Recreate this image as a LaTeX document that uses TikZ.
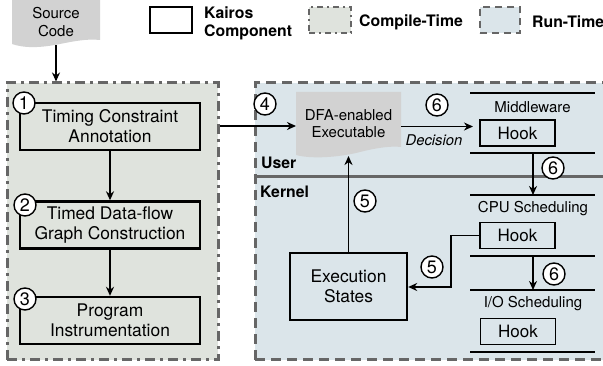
\documentclass[tikz,border=0pt]{standalone}
\usepackage{fontspec}
\setmainfont{TeX Gyre Heros}
\usetikzlibrary{arrows.meta,calc}

\definecolor{ctfill}{HTML}{DFE3DD}
\definecolor{rtfill}{HTML}{DBE5EA}
\definecolor{docfill}{HTML}{D2D2D2}
\definecolor{framegray}{HTML}{666666}

\tikzset{
  comp/.style={draw=black, line width=2.4pt, minimum width=180pt, minimum height=47pt,
    align=center, inner sep=0pt, font=\fontsize{17.4}{20}\selectfont},
  hookbox/.style={draw=black, line width=1.6pt, minimum width=75pt, minimum height=26pt,
    inner sep=0pt, font=\fontsize{17}{20}\selectfont},
  num/.style={circle, draw=black, fill=white, line width=1.4pt, minimum size=22pt,
    inner sep=0pt, font=\fontsize{18}{18}\selectfont},
  arr/.style={line width=1.8pt, -{Stealth[length=9pt,width=8pt]}},
  layer/.style={line width=1.6pt},
  lbl/.style={font=\fontsize{15}{17.5}\selectfont, align=center, inner sep=0pt},
  ctframe/.style={draw=framegray, line width=3pt, dash pattern=on 10pt off 5pt on 3pt off 5pt, fill=ctfill},
  rtframe/.style={draw=framegray, line width=3pt, dash pattern=on 10pt off 6pt, fill=rtfill},
  legendtxt/.style={font=\bfseries\fontsize{15.8}{18}\selectfont, anchor=west, align=left, inner sep=0pt},
  doc/.style={fill=docfill, draw=none},
}

\begin{document}
\begin{tikzpicture}[x=1pt, y=-1pt]
  \clip (0,0) rectangle (603,366);
  \fill[white] (0,0) rectangle (603,366);

  % legend
  \node[draw=black, line width=1.6pt, minimum width=42pt, minimum height=26pt, inner sep=0pt] (lgk) at (171,20) {};
  \node[legendtxt] (lgktxt) at (204,23) {Kairos\\Component};
  \node[ctframe, line width=2pt, dash pattern=on 6pt off 4pt on 2pt off 4pt, minimum width=42pt, minimum height=26pt, inner sep=0pt] (lgc) at (330,20) {};
  \node[legendtxt] (lgctxt) at (359,22) {Compile-Time};
  \node[rtframe, line width=2pt, dash pattern=on 7pt off 5pt, minimum width=40pt, minimum height=26pt, inner sep=0pt] (lgr) at (500,20) {};
  \node[legendtxt] (lgrtxt) at (532,22) {Run-Time};

  % compile-time and run-time regions
  \node[ctframe, minimum width=211pt, minimum height=277pt, inner sep=0pt] (ct) at (112.5,221.5) {};
  \node[rtframe, minimum width=360pt, minimum height=277pt, inner sep=0pt] (rt) at (435,221.5) {};
  \draw[framegray, line width=3pt] (rt.west |- 0,177) -- (603,177);
  \node[font=\bfseries\fontsize{15.8}{18}\selectfont, anchor=west, inner sep=0pt] (user) at (261,163) {User};
  \node[font=\bfseries\fontsize{15.8}{18}\selectfont, anchor=west, inner sep=0pt] (kernel) at (260,192) {Kernel};

  % source code document
  \path[doc] (12,0) -- (100,0) -- (100,40)
    .. controls (90,39) and (80,40) .. (65,43)
    .. controls (50,46) and (30,50) .. (12,44) -- cycle;
  \node[lbl] (src) at (56,22) {Source\\Code};
  \coordinate (srcbot) at (56,45);

  % compile-time components
  \node[comp] (b1) at (110,126.5) {Timing Constraint\\Annotation};
  \node[comp] (b2) at (110,225) {Timed Data-flow\\Graph Construction};
  \node[comp] (b3) at (110,320.5) {Program\\Instrumentation};

  % DFA-enabled executable document
  \path[doc] (296,92) -- (401,92) -- (401,147)
    .. controls (392,146) and (380,147) .. (360,152)
    .. controls (345,156) and (315,160) .. (296,155) -- cycle;
  \node[lbl] (dfa) at (348.5,123.5) {DFA-enabled\\Executable};
  \coordinate (dfabot) at (348.5,156);

  % execution states
  \node[comp, minimum width=117pt, minimum height=67pt] (ex) at (348.5,286.5) {Execution\\States};

  % middleware layer
  \draw[layer] (470,93) -- (595,93);
  \draw[layer] (470,153) -- (595,153);
  \node[lbl] (mw) at (532.5,107) {Middleware};
  \node[hookbox] (mwhook) at (517.5,133) {Hook};

  % CPU scheduling layer
  \draw[layer] (470,195) -- (595,195);
  \draw[layer] (470,256) -- (595,256);
  \node[lbl] (cpu) at (533,209) {CPU Scheduling};
  \node[hookbox] (cpuhook) at (517.5,235.5) {Hook};

  % I/O scheduling layer
  \draw[layer] (470,290) -- (595,290);
  \draw[layer] (470,352) -- (595,352);
  \node[lbl] (io) at (533,304) {I/O Scheduling};
  \node[hookbox] (iohook) at (518,331.5) {Hook};

  \coordinate (mwbot) at (533,153);
  \coordinate (cputop) at (533,195);
  \coordinate (cpubot) at (533,256);
  \coordinate (iotop) at (533,290);

  % connectors
  \draw[arr] (srcbot) -- (srcbot |- ct.north);
  \draw[arr] (b1) -- (b2);
  \draw[arr] (b2) -- (b3);
  \draw[arr] (ct.east |- 0,126) -- (296,126);
  \coordinate (dfaout) at (401,126.5);
  \draw[arr] (dfaout) -- (473,126.5);
  \node[font=\itshape\fontsize{14.8}{17}\selectfont, inner sep=0pt] (dec) at (434,140) {Decision};
  \draw[arr] (mwbot) -- (cputop);
  \draw[arr] (cpubot) -- (iotop);
  \draw[arr] (ex.north) -- (dfabot);
  \draw[arr] (cpuhook.west) -- (451,235.5) -- (451,287) -- (ex.east |- 0,287);

  % step numbers
  \node[num] (n1) at (24,103) {1};
  \node[num] (n2) at (25,205) {2};
  \node[num] (n3) at (25,299) {3};
  \node[num] (n4) at (265,104) {4};
  \node[num] (n6a) at (437,105) {6};
  \node[num] (n6b) at (553,168) {6};
  \node[num] (n6c) at (554,274) {6};
  \node[num] (n5a) at (365,201) {5};
  \node[num] (n5b) at (432,267) {5};
\end{tikzpicture}
\end{document}
